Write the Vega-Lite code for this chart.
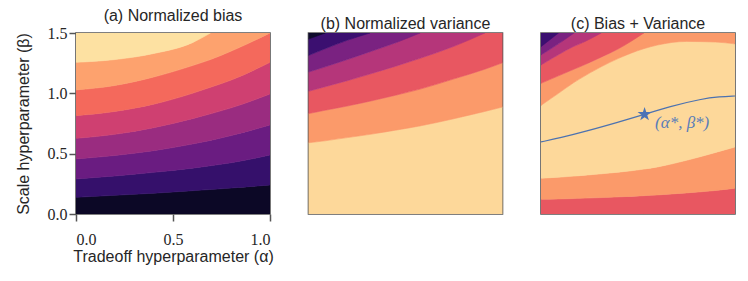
{
  "$schema": "https://vega.github.io/schema/vega-lite/v6.json",
  "autosize": {"type": "none"},
  "padding": {"left": 76, "top": 33, "right": 672, "bottom": 248},
  "background": "white",
  "bounds": "flush",
  "spacing": 38.5,
  "config": {
    "view": {"stroke": "#555555", "strokeWidth": 1.6},
    "title": {"font": "Liberation Sans", "fontSize": 16, "fontWeight": "normal", "color": "#262626", "anchor": "middle", "offset": 1},
    "axis": {"domain": false, "grid": false, "ticks": true, "tickColor": "#555555", "tickWidth": 1.5, "tickSize": 7, "labelFont": "Liberation Serif", "labelFontSize": 16, "labelColor": "#262626", "titleFont": "Liberation Sans", "titleFontSize": 16, "titleFontWeight": "normal", "titleColor": "#262626"}
  },
  "datasets": {
    "a": [
      {"band":"a0","x":0,"lo":0,"hi":0.138},{"band":"a0","x":0.2,"lo":0,"hi":0.155},{"band":"a0","x":0.4,"lo":0,"hi":0.172},{"band":"a0","x":0.6,"lo":0,"hi":0.193},{"band":"a0","x":0.693,"lo":0,"hi":0.203},{"band":"a0","x":0.8,"lo":0,"hi":0.215},{"band":"a0","x":1,"lo":0,"hi":0.24},
      {"band":"a1","x":0,"lo":0.138,"hi":0.29},{"band":"a1","x":0.2,"lo":0.155,"hi":0.315},{"band":"a1","x":0.4,"lo":0.172,"hi":0.345},{"band":"a1","x":0.6,"lo":0.193,"hi":0.38},{"band":"a1","x":0.693,"lo":0.203,"hi":0.4},{"band":"a1","x":0.8,"lo":0.215,"hi":0.425},{"band":"a1","x":1,"lo":0.24,"hi":0.489},
      {"band":"a2","x":0,"lo":0.29,"hi":0.456},{"band":"a2","x":0.2,"lo":0.315,"hi":0.485},{"band":"a2","x":0.4,"lo":0.345,"hi":0.525},{"band":"a2","x":0.6,"lo":0.38,"hi":0.58},{"band":"a2","x":0.693,"lo":0.4,"hi":0.61},{"band":"a2","x":0.8,"lo":0.425,"hi":0.65},{"band":"a2","x":1,"lo":0.489,"hi":0.738},
      {"band":"a3","x":0,"lo":0.456,"hi":0.627},{"band":"a3","x":0.2,"lo":0.485,"hi":0.66},{"band":"a3","x":0.4,"lo":0.525,"hi":0.715},{"band":"a3","x":0.6,"lo":0.58,"hi":0.79},{"band":"a3","x":0.693,"lo":0.61,"hi":0.83},{"band":"a3","x":0.8,"lo":0.65,"hi":0.88},{"band":"a3","x":1,"lo":0.738,"hi":0.994},
      {"band":"a4","x":0,"lo":0.627,"hi":0.815},{"band":"a4","x":0.2,"lo":0.66,"hi":0.85},{"band":"a4","x":0.4,"lo":0.715,"hi":0.91},{"band":"a4","x":0.6,"lo":0.79,"hi":1.0},{"band":"a4","x":0.693,"lo":0.83,"hi":1.05},{"band":"a4","x":0.8,"lo":0.88,"hi":1.11},{"band":"a4","x":1,"lo":0.994,"hi":1.257},
      {"band":"a5","x":0,"lo":0.815,"hi":1.028},{"band":"a5","x":0.2,"lo":0.85,"hi":1.065},{"band":"a5","x":0.4,"lo":0.91,"hi":1.135},{"band":"a5","x":0.6,"lo":1.0,"hi":1.23},{"band":"a5","x":0.693,"lo":1.05,"hi":1.28},{"band":"a5","x":0.8,"lo":1.11,"hi":1.35},{"band":"a5","x":1,"lo":1.257,"hi":1.5},
      {"band":"a6","x":0,"lo":1.028,"hi":1.257},{"band":"a6","x":0.2,"lo":1.065,"hi":1.28},{"band":"a6","x":0.4,"lo":1.135,"hi":1.33},{"band":"a6","x":0.6,"lo":1.23,"hi":1.42},{"band":"a6","x":0.693,"lo":1.28,"hi":1.5},{"band":"a6","x":0.8,"lo":1.35,"hi":1.5},{"band":"a6","x":1,"lo":1.5,"hi":1.5},
      {"band":"a7","x":0,"lo":1.257,"hi":1.5},{"band":"a7","x":0.2,"lo":1.28,"hi":1.5},{"band":"a7","x":0.4,"lo":1.33,"hi":1.5},{"band":"a7","x":0.6,"lo":1.42,"hi":1.5},{"band":"a7","x":0.693,"lo":1.5,"hi":1.5}
    ],
    "b": [
      {"band":"b0","x":0,"lo":0,"hi":0.59},{"band":"b0","x":0.086,"lo":0,"hi":0.607},{"band":"b0","x":0.2,"lo":0,"hi":0.633},{"band":"b0","x":0.317,"lo":0,"hi":0.66},{"band":"b0","x":0.45,"lo":0,"hi":0.695},{"band":"b0","x":0.575,"lo":0,"hi":0.73},{"band":"b0","x":0.75,"lo":0,"hi":0.79},{"band":"b0","x":0.909,"lo":0,"hi":0.85},{"band":"b0","x":1,"lo":0,"hi":0.887},
      {"band":"b1","x":0,"lo":0.59,"hi":0.832},{"band":"b1","x":0.086,"lo":0.607,"hi":0.86},{"band":"b1","x":0.2,"lo":0.633,"hi":0.895},{"band":"b1","x":0.317,"lo":0.66,"hi":0.935},{"band":"b1","x":0.45,"lo":0.695,"hi":0.985},{"band":"b1","x":0.575,"lo":0.73,"hi":1.035},{"band":"b1","x":0.75,"lo":0.79,"hi":1.12},{"band":"b1","x":0.909,"lo":0.85,"hi":1.2},{"band":"b1","x":1,"lo":0.887,"hi":1.253},
      {"band":"b2","x":0,"lo":0.832,"hi":1.017},{"band":"b2","x":0.086,"lo":0.86,"hi":1.055},{"band":"b2","x":0.2,"lo":0.895,"hi":1.105},{"band":"b2","x":0.317,"lo":0.935,"hi":1.16},{"band":"b2","x":0.45,"lo":0.985,"hi":1.225},{"band":"b2","x":0.575,"lo":1.035,"hi":1.29},{"band":"b2","x":0.75,"lo":1.12,"hi":1.39},{"band":"b2","x":0.909,"lo":1.2,"hi":1.5},{"band":"b2","x":1,"lo":1.253,"hi":1.5},
      {"band":"b3","x":0,"lo":1.017,"hi":1.176},{"band":"b3","x":0.086,"lo":1.055,"hi":1.22},{"band":"b3","x":0.2,"lo":1.105,"hi":1.28},{"band":"b3","x":0.317,"lo":1.16,"hi":1.345},{"band":"b3","x":0.45,"lo":1.225,"hi":1.42},{"band":"b3","x":0.575,"lo":1.29,"hi":1.5},{"band":"b3","x":0.75,"lo":1.39,"hi":1.5},{"band":"b3","x":0.909,"lo":1.5,"hi":1.5},
      {"band":"b4","x":0,"lo":1.176,"hi":1.314},{"band":"b4","x":0.086,"lo":1.22,"hi":1.37},{"band":"b4","x":0.2,"lo":1.28,"hi":1.44},{"band":"b4","x":0.317,"lo":1.345,"hi":1.5},{"band":"b4","x":0.45,"lo":1.42,"hi":1.5},{"band":"b4","x":0.575,"lo":1.5,"hi":1.5},
      {"band":"b5","x":0,"lo":1.314,"hi":1.45},{"band":"b5","x":0.086,"lo":1.37,"hi":1.5},{"band":"b5","x":0.2,"lo":1.44,"hi":1.5},{"band":"b5","x":0.317,"lo":1.5,"hi":1.5},
      {"band":"b6","x":0,"lo":1.45,"hi":1.5},{"band":"b6","x":0.086,"lo":1.5,"hi":1.5}
    ],
    "c": [
      {"band":"c0","x":0,"lo":0,"hi":0.122},{"band":"c0","x":0.09,"lo":0,"hi":0.125},{"band":"c0","x":0.17,"lo":0,"hi":0.128},{"band":"c0","x":0.2,"lo":0,"hi":0.13},{"band":"c0","x":0.31,"lo":0,"hi":0.136},{"band":"c0","x":0.4,"lo":0,"hi":0.142},{"band":"c0","x":0.53,"lo":0,"hi":0.152},{"band":"c0","x":0.6,"lo":0,"hi":0.158},{"band":"c0","x":0.75,"lo":0,"hi":0.175},{"band":"c0","x":0.9,"lo":0,"hi":0.195},{"band":"c0","x":1,"lo":0,"hi":0.213},
      {"band":"c1","x":0,"lo":0.122,"hi":0.296},{"band":"c1","x":0.09,"lo":0.125,"hi":0.305},{"band":"c1","x":0.17,"lo":0.128,"hi":0.314},{"band":"c1","x":0.2,"lo":0.13,"hi":0.318},{"band":"c1","x":0.31,"lo":0.136,"hi":0.333},{"band":"c1","x":0.4,"lo":0.142,"hi":0.347},{"band":"c1","x":0.53,"lo":0.152,"hi":0.372},{"band":"c1","x":0.6,"lo":0.158,"hi":0.39},{"band":"c1","x":0.75,"lo":0.175,"hi":0.445},{"band":"c1","x":0.9,"lo":0.195,"hi":0.51},{"band":"c1","x":1,"lo":0.213,"hi":0.555},
      {"band":"c2","x":0,"lo":0.296,"hi":0.9},{"band":"c2","x":0.09,"lo":0.305,"hi":1.0},{"band":"c2","x":0.17,"lo":0.314,"hi":1.09},{"band":"c2","x":0.2,"lo":0.318,"hi":1.12},{"band":"c2","x":0.31,"lo":0.333,"hi":1.22},{"band":"c2","x":0.4,"lo":0.347,"hi":1.29},{"band":"c2","x":0.53,"lo":0.372,"hi":1.37},{"band":"c2","x":0.6,"lo":0.39,"hi":1.40},{"band":"c2","x":0.75,"lo":0.445,"hi":1.43},{"band":"c2","x":0.9,"lo":0.51,"hi":1.425},{"band":"c2","x":1,"lo":0.555,"hi":1.41},
      {"band":"c3","x":0,"lo":0.9,"hi":1.083},{"band":"c3","x":0.09,"lo":1.0,"hi":1.145},{"band":"c3","x":0.17,"lo":1.09,"hi":1.2},{"band":"c3","x":0.2,"lo":1.12,"hi":1.22},{"band":"c3","x":0.31,"lo":1.22,"hi":1.3},{"band":"c3","x":0.4,"lo":1.29,"hi":1.37},{"band":"c3","x":0.53,"lo":1.37,"hi":1.5},{"band":"c3","x":0.6,"lo":1.40,"hi":1.5},{"band":"c3","x":0.75,"lo":1.43,"hi":1.5},{"band":"c3","x":0.9,"lo":1.425,"hi":1.5},{"band":"c3","x":1,"lo":1.41,"hi":1.5},
      {"band":"c4","x":0,"lo":1.083,"hi":1.235},{"band":"c4","x":0.09,"lo":1.145,"hi":1.32},{"band":"c4","x":0.17,"lo":1.2,"hi":1.39},{"band":"c4","x":0.2,"lo":1.22,"hi":1.41},{"band":"c4","x":0.31,"lo":1.3,"hi":1.5},{"band":"c4","x":0.4,"lo":1.37,"hi":1.5},{"band":"c4","x":0.53,"lo":1.5,"hi":1.5},
      {"band":"c5","x":0,"lo":1.235,"hi":1.318},{"band":"c5","x":0.09,"lo":1.32,"hi":1.41},{"band":"c5","x":0.17,"lo":1.39,"hi":1.5},{"band":"c5","x":0.2,"lo":1.41,"hi":1.5},{"band":"c5","x":0.31,"lo":1.5,"hi":1.5},
      {"band":"c6","x":0,"lo":1.318,"hi":1.387},{"band":"c6","x":0.09,"lo":1.41,"hi":1.5},{"band":"c6","x":0.17,"lo":1.5,"hi":1.5},
      {"band":"c7","x":0,"lo":1.387,"hi":1.5},{"band":"c7","x":0.09,"lo":1.5,"hi":1.5}
    ],
    "opt": [
      {"x":0,"y":0.597},{"x":0.1,"y":0.632},{"x":0.23,"y":0.685},{"x":0.4,"y":0.762},{"x":0.534,"y":0.826},{"x":0.66,"y":0.89},{"x":0.83,"y":0.955},{"x":0.92,"y":0.972},{"x":1,"y":0.978}
    ],
    "star": [
      {"x":0.534,"y":0.826,"label":"(α*, β*)","lx":0.588,"ly":0.752}
    ]
  },
  "hconcat": [
    {
      "width": 194, "height": 181,
      "title": "(a) Normalized bias",
      "data": {"name": "a"},
      "mark": {"type": "area", "interpolate": "monotone", "strokeWidth": 0.6, "clip": true},
      "encoding": {
        "x": {"field": "x", "type": "quantitative", "scale": {"domain": [0, 1], "nice": false, "zero": false}, "axis": {"values": [0, 0.5, 1], "format": ".1f", "title": "Tradeoff hyperparameter (α)", "labelPadding": 10, "titlePadding": 1}},
        "y": {"field": "lo", "type": "quantitative", "scale": {"domain": [0, 1.5], "nice": false, "zero": false}, "axis": {"values": [0, 0.5, 1, 1.5], "format": ".1f", "title": "Scale hyperparameter (β)", "labelPadding": 2, "titlePadding": 16}},
        "y2": {"field": "hi"},
        "color": {"field": "band", "type": "nominal", "legend": null, "scale": {"domain": ["a0","a1","a2","a3","a4","a5","a6","a7"], "range": ["#0c0826","#35106b","#6a1c81","#9a2c80","#cf4071","#f4695c","#fda26e","#fde1a2"]}},
        "stroke": {"field": "band", "type": "nominal", "legend": null, "scale": {"domain": ["a0","a1","a2","a3","a4","a5","a6","a7"], "range": ["#0c0826","#35106b","#6a1c81","#9a2c80","#cf4071","#f4695c","#fda26e","#fde1a2"]}}
      }
    },
    {
      "width": 194, "height": 181,
      "title": "(b) Normalized variance",
      "data": {"name": "b"},
      "mark": {"type": "area", "interpolate": "monotone", "strokeWidth": 0.6, "clip": true},
      "encoding": {
        "x": {"field": "x", "type": "quantitative", "scale": {"domain": [0, 1], "nice": false, "zero": false}, "axis": null},
        "y": {"field": "lo", "type": "quantitative", "scale": {"domain": [0, 1.5], "nice": false, "zero": false}, "axis": null},
        "y2": {"field": "hi"},
        "color": {"field": "band", "type": "nominal", "legend": null, "scale": {"domain": ["b0","b1","b2","b3","b4","b5","b6"], "range": ["#fdd89a","#fb9a6a","#e85761","#b5367a","#7a2281","#3b0f70","#0f0b2d"]}},
        "stroke": {"field": "band", "type": "nominal", "legend": null, "scale": {"domain": ["b0","b1","b2","b3","b4","b5","b6"], "range": ["#fdd89a","#fb9a6a","#e85761","#b5367a","#7a2281","#3b0f70","#0f0b2d"]}}
      }
    },
    {
      "width": 194, "height": 181,
      "title": "(c) Bias + Variance",
      "layer": [
        {
          "data": {"name": "c"},
          "mark": {"type": "area", "interpolate": "monotone", "strokeWidth": 0.6, "clip": true},
          "encoding": {
            "x": {"field": "x", "type": "quantitative", "scale": {"domain": [0, 1], "nice": false, "zero": false}, "axis": null},
            "y": {"field": "lo", "type": "quantitative", "scale": {"domain": [0, 1.5], "nice": false, "zero": false}, "axis": null},
            "y2": {"field": "hi"},
            "color": {"field": "band", "type": "nominal", "legend": null, "scale": {"domain": ["c0","c1","c2","c3","c4","c5","c6","c7"], "range": ["#e85761","#fb9a6a","#fdd89a","#fb9a6a","#e85761","#b5367a","#7a2281","#3b0f70"]}},
            "stroke": {"field": "band", "type": "nominal", "legend": null, "scale": {"domain": ["c0","c1","c2","c3","c4","c5","c6","c7"], "range": ["#e85761","#fb9a6a","#fdd89a","#fb9a6a","#e85761","#b5367a","#7a2281","#3b0f70"]}}
          }
        },
        {
          "data": {"name": "opt"},
          "mark": {"type": "line", "interpolate": "basis", "color": "#4c72b0", "strokeWidth": 1.2, "clip": true},
          "encoding": {
            "x": {"field": "x", "type": "quantitative"},
            "y": {"field": "y", "type": "quantitative"}
          }
        },
        {
          "data": {"name": "star"},
          "mark": {"type": "point", "shape": "M0,-1L0.2245,-0.309L0.951,-0.309L0.363,0.118L0.588,0.809L0,0.382L-0.588,0.809L-0.363,0.118L-0.951,-0.309L-0.2245,-0.309Z", "size": 220, "filled": true, "color": "#4a72b6", "opacity": 1},
          "encoding": {
            "x": {"field": "x", "type": "quantitative"},
            "y": {"field": "y", "type": "quantitative"}
          }
        },
        {
          "data": {"name": "star"},
          "mark": {"type": "text", "align": "left", "baseline": "middle", "font": "Liberation Serif", "fontSize": 17, "fontStyle": "italic", "color": "#5a7db8"},
          "encoding": {
            "x": {"field": "lx", "type": "quantitative"},
            "y": {"field": "ly", "type": "quantitative"},
            "text": {"field": "label"}
          }
        }
      ]
    }
  ],
  "resolve": {"scale": {"color": "independent", "stroke": "independent", "x": "independent", "y": "independent"}}
}
